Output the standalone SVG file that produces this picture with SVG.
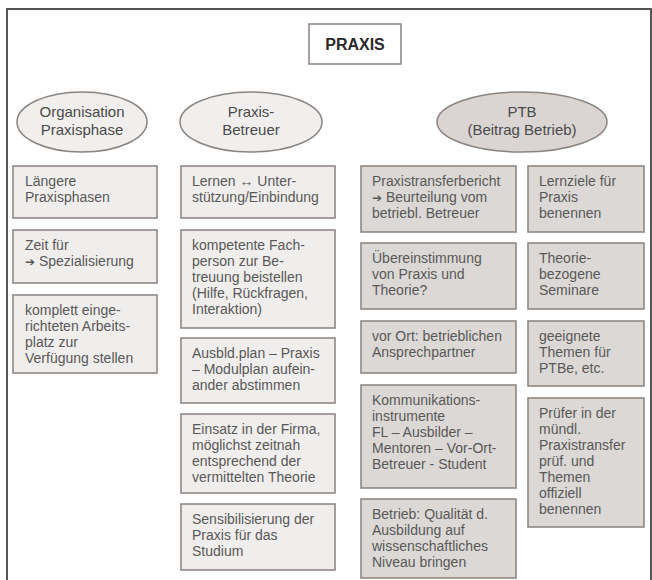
<svg xmlns="http://www.w3.org/2000/svg" width="652" height="580" viewBox="0 0 652 580">
  <style>
    .frame { fill: none; stroke: #555; stroke-width: 2; }
    .title { fill: #fff; stroke: #8a8480; stroke-width: 1.5; }
    .title-text { font-family: "Liberation Sans", Arial, sans-serif; font-size: 16px; font-weight: bold; fill: #2a2a2a; text-anchor: middle; }
    .ell-light { fill: #f1efed; stroke: #8a8480; stroke-width: 1.5; }
    .ell-dark { fill: #dad5d2; stroke: #8a8480; stroke-width: 1.5; }
    .ell-text { font-family: "Liberation Sans", Arial, sans-serif; font-size: 15px; fill: #4a4a4a; text-anchor: middle; }
    .box-light { fill: #f0eeec; stroke: #8f8985; stroke-width: 1.6; }
    .box-dark { fill: #dcd8d5; stroke: #8f8985; stroke-width: 1.6; }
    .txt { font-family: "Liberation Sans", Arial, sans-serif; font-size: 14px; fill: #585858; }
    .arr { font-family: "DejaVu Sans", sans-serif; font-size: 12px; }
  </style>

  <rect width="652" height="580" fill="#fff"/>
  <!-- outer frame: top, left and right edges only -->
  <path class="frame" d="M7 580 V9 H651 V580"/>

  <g id="praxis">
    <rect class="title" x="309" y="24" width="92" height="40"/>
    <text class="title-text" x="355" y="50">PRAXIS</text>
  </g>

  <!-- column headings -->
  <g id="organisation">
    <ellipse class="ell-light" cx="82" cy="122" rx="65" ry="30"/>
    <text class="ell-text" x="82" y="117">Organisation</text>
    <text class="ell-text" x="82" y="135">Praxisphase</text>
  </g>
  <g id="betreuer">
    <ellipse class="ell-light" cx="251" cy="122" rx="71" ry="30"/>
    <text class="ell-text" x="251" y="117">Praxis-</text>
    <text class="ell-text" x="251" y="135">Betreuer</text>
  </g>
  <g id="ptb">
    <ellipse class="ell-dark" cx="522" cy="122" rx="85" ry="30"/>
    <text class="ell-text" x="522" y="117">PTB</text>
    <text class="ell-text" x="522" y="135">(Beitrag Betrieb)</text>
  </g>

  <!-- Organisation Praxisphase -->
  <g id="org-1">
    <rect class="box-light" x="13" y="166" width="144" height="52"/>
    <text class="txt" x="25" y="186">Längere</text>
    <text class="txt" x="25" y="202">Praxisphasen</text>
  </g>
  <g id="org-2">
    <rect class="box-light" x="13" y="230" width="144" height="53"/>
    <text class="txt" x="25" y="250">Zeit für</text>
    <text class="txt" x="25" y="266"><tspan class="arr">➔</tspan> Spezialisierung</text>
  </g>
  <g id="org-3">
    <rect class="box-light" x="13" y="295" width="144" height="78"/>
    <text class="txt" x="25" y="315">komplett einge-</text>
    <text class="txt" x="25" y="331">richteten Arbeits-</text>
    <text class="txt" x="25" y="347">platz zur</text>
    <text class="txt" x="25" y="363">Verfügung stellen</text>
  </g>

  <!-- Praxis-Betreuer -->
  <g id="bet-1">
    <rect class="box-light" x="181" y="166" width="154" height="52"/>
    <text class="txt" x="192" y="186">Lernen ↔ Unter-</text>
    <text class="txt" x="192" y="202">stützung/Einbindung</text>
  </g>
  <g id="bet-2">
    <rect class="box-light" x="181" y="230" width="154" height="98"/>
    <text class="txt" x="192" y="250">kompetente Fach-</text>
    <text class="txt" x="192" y="266">person zur Be-</text>
    <text class="txt" x="192" y="282">treuung beistellen</text>
    <text class="txt" x="192" y="298">(Hilfe, Rückfragen,</text>
    <text class="txt" x="192" y="314">Interaktion)</text>
  </g>
  <g id="bet-3">
    <rect class="box-light" x="181" y="338" width="154" height="65"/>
    <text class="txt" x="192" y="358">Ausbld.plan – Praxis</text>
    <text class="txt" x="192" y="374">– Modulplan aufein-</text>
    <text class="txt" x="192" y="390">ander abstimmen</text>
  </g>
  <g id="bet-4">
    <rect class="box-light" x="181" y="414" width="154" height="79"/>
    <text class="txt" x="192" y="434">Einsatz in der Firma,</text>
    <text class="txt" x="192" y="450">möglichst zeitnah</text>
    <text class="txt" x="192" y="466">entsprechend der</text>
    <text class="txt" x="192" y="482">vermittelten Theorie</text>
  </g>
  <g id="bet-5">
    <rect class="box-light" x="181" y="504" width="154" height="66"/>
    <text class="txt" x="192" y="524">Sensibilisierung der</text>
    <text class="txt" x="192" y="540">Praxis für das</text>
    <text class="txt" x="192" y="556">Studium</text>
  </g>

  <!-- PTB, left column -->
  <g id="ptb-a1">
    <rect class="box-dark" x="361" y="166" width="155" height="66"/>
    <text class="txt" x="372" y="186">Praxistransferbericht</text>
    <text class="txt" x="372" y="202"><tspan class="arr">➔</tspan> Beurteilung vom</text>
    <text class="txt" x="372" y="218">betriebl. Betreuer</text>
  </g>
  <g id="ptb-a2">
    <rect class="box-dark" x="361" y="243" width="155" height="66"/>
    <text class="txt" x="372" y="263">Übereinstimmung</text>
    <text class="txt" x="372" y="279">von Praxis und</text>
    <text class="txt" x="372" y="295">Theorie?</text>
  </g>
  <g id="ptb-a3">
    <rect class="box-dark" x="361" y="321" width="155" height="52"/>
    <text class="txt" x="372" y="341">vor Ort: betrieblichen</text>
    <text class="txt" x="372" y="357">Ansprechpartner</text>
  </g>
  <g id="ptb-a4">
    <rect class="box-dark" x="361" y="385" width="155" height="103"/>
    <text class="txt" x="372" y="405">Kommunikations-</text>
    <text class="txt" x="372" y="421">instrumente</text>
    <text class="txt" x="372" y="437">FL – Ausbilder –</text>
    <text class="txt" x="372" y="453">Mentoren – Vor-Ort-</text>
    <text class="txt" x="372" y="469">Betreuer - Student</text>
  </g>
  <g id="ptb-a5">
    <rect class="box-dark" x="361" y="499" width="155" height="79"/>
    <text class="txt" x="372" y="519">Betrieb: Qualität d.</text>
    <text class="txt" x="372" y="535">Ausbildung auf</text>
    <text class="txt" x="372" y="551">wissenschaftliches</text>
    <text class="txt" x="372" y="567">Niveau bringen</text>
  </g>

  <!-- PTB, right column -->
  <g id="ptb-b1">
    <rect class="box-dark" x="528" y="166" width="116" height="66"/>
    <text class="txt" x="539" y="186">Lernziele für</text>
    <text class="txt" x="539" y="202">Praxis</text>
    <text class="txt" x="539" y="218">benennen</text>
  </g>
  <g id="ptb-b2">
    <rect class="box-dark" x="528" y="243" width="116" height="66"/>
    <text class="txt" x="539" y="263">Theorie-</text>
    <text class="txt" x="539" y="279">bezogene</text>
    <text class="txt" x="539" y="295">Seminare</text>
  </g>
  <g id="ptb-b3">
    <rect class="box-dark" x="528" y="321" width="116" height="65"/>
    <text class="txt" x="539" y="341">geeignete</text>
    <text class="txt" x="539" y="357">Themen für</text>
    <text class="txt" x="539" y="373">PTBe, etc.</text>
  </g>
  <g id="ptb-b4">
    <rect class="box-dark" x="528" y="398" width="116" height="129"/>
    <text class="txt" x="539" y="418">Prüfer in der</text>
    <text class="txt" x="539" y="434">mündl.</text>
    <text class="txt" x="539" y="450">Praxistransfer</text>
    <text class="txt" x="539" y="466">prüf. und</text>
    <text class="txt" x="539" y="482">Themen</text>
    <text class="txt" x="539" y="498">offiziell</text>
    <text class="txt" x="539" y="514">benennen</text>
  </g>
</svg>
